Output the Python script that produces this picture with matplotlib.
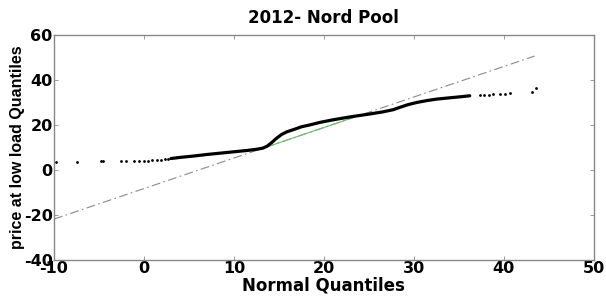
import matplotlib
matplotlib.use("Agg")
import matplotlib.pyplot as plt

plt.rcParams['font.family'] = ['DejaVu Sans']
plt.rcParams['axes.unicode_minus'] = False

# sparse lower tail (normal quantile, price quantile)
tail_lo_x = [-9.8, -7.4, -4.8, -4.5, -2.6, -2.0, -1.1, -0.5, 0.0, 0.4, 0.9, 1.4, 1.9, 2.3, 2.7]
tail_lo_y = [3.7, 3.7, 3.8, 3.8, 3.9, 3.9, 4.0, 4.1, 4.2, 4.2, 4.3, 4.4, 4.6, 4.8, 5.0]

# dense body of the quantile plot
body_x = [3.0, 4.0, 5.5, 7.0, 8.5, 10.0, 11.5, 12.5, 13.2, 13.7, 14.2, 14.7, 15.3,
          15.9, 16.8, 17.5, 18.4, 19.6, 21.0, 22.9, 25.1, 26.5, 27.7, 28.4, 29.3,
          30.3, 31.5, 32.5, 34.0, 35.3, 36.2]
body_y = [5.1, 5.6, 6.2, 6.9, 7.5, 8.1, 8.7, 9.2, 9.7, 10.6, 12.2, 14.0, 15.8,
          17.0, 18.2, 19.2, 20.0, 21.2, 22.3, 23.6, 24.9, 25.8, 26.8, 27.8, 29.0,
          30.0, 30.9, 31.5, 32.1, 32.6, 33.0]

# sparse upper tail
tail_hi_x = [37.3, 37.8, 38.3, 38.8, 39.6, 40.1, 40.7, 43.1, 43.6]
tail_hi_y = [33.3, 33.4, 33.5, 33.6, 33.9, 34.0, 34.1, 34.6, 36.3]

# reference line through the quartiles
q_x = [13.6, 23.4]
q_y = [10.2, 23.5]
ref_x = [-10.0, 43.4]

slope = (q_y[1] - q_y[0]) / (q_x[1] - q_x[0])
ref_y = [q_y[0] + slope * (x - q_x[0]) for x in ref_x]

fig = plt.figure(figsize=(6.06, 2.98), dpi=100)
ax = fig.add_axes([0.089, 0.1275, 0.891, 0.755])

ax.plot(ref_x, ref_y, color='#8a8a8a', linestyle='-.', linewidth=0.8, dashes=(8, 3, 1.5, 3))
ax.plot(q_x, q_y, color='#6cbf6c', linewidth=0.8)
ax.plot(body_x, body_y, color='black', linewidth=2.3, solid_capstyle='round')
ax.plot(tail_lo_x, tail_lo_y, 'o', color='black', markersize=2.0, markeredgewidth=0)
ax.plot(tail_hi_x, tail_hi_y, 'o', color='black', markersize=2.0, markeredgewidth=0)

ax.set_xlim(-10, 50)
ax.set_ylim(-40, 60)
ax.set_xticks(range(-10, 51, 10))
ax.set_yticks(range(-40, 61, 20))
ax.tick_params(direction='in', length=3, width=0.6, color='#888888',
               top=True, right=True, labelsize=11.5, pad=1)
for lab in ax.get_xticklabels() + ax.get_yticklabels():
    lab.set_fontweight('bold')
for sp in ax.spines.values():
    sp.set_color('#888888')
    sp.set_linewidth(1.0)

ax.set_title('2012- Nord Pool', fontsize=12, fontweight='bold', pad=9)
ax.set_xlabel('Normal Quantiles', fontsize=12, fontweight='bold', labelpad=0)
ax.set_ylabel('price at low load Quantiles', fontsize=11.5, fontweight='bold',
              labelpad=-1, family='Liberation Sans')

fig.savefig('out.png', dpi=100)
